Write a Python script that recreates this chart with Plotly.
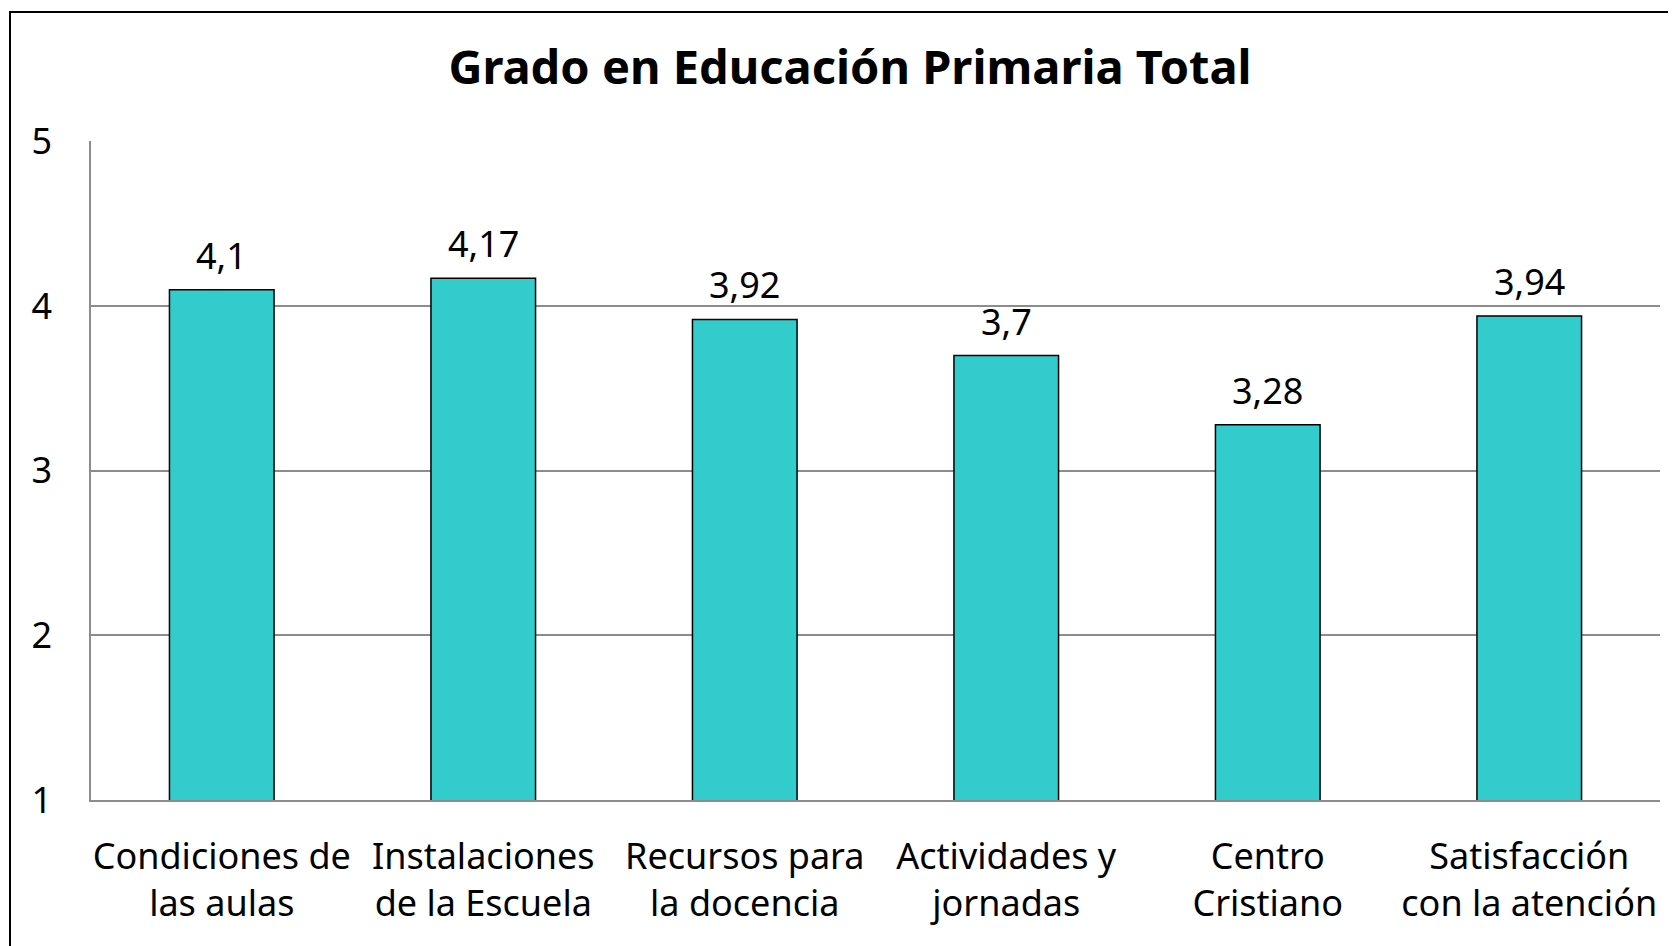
import plotly.graph_objects as go

categories = [
    "Condiciones de<br>las aulas",
    "Instalaciones<br>de la Escuela",
    "Recursos para<br>la docencia",
    "Actividades y<br>jornadas",
    "Centro<br>Cristiano",
    "Satisfacción<br>con la atención",
]
values = [4.1, 4.17, 3.92, 3.7, 3.28, 3.94]
value_labels = ["4,1", "4,17", "3,92", "3,7", "3,28", "3,94"]
y_ticks = [1, 2, 3, 4, 5]

FONT = "Comic Sans MS, Noto Sans, DejaVu Sans, sans-serif"

fig = go.Figure(
    go.Bar(
        x=categories,
        y=values,
        marker=dict(color="#33CCCC", line=dict(color="black", width=1.5)),
        width=0.4,
        hoverinfo="x+y",
    )
)

# value labels above bars
for c, v, t in zip(categories, values, value_labels):
    fig.add_annotation(x=c, y=v, text=t, showarrow=False, yanchor="bottom",
                       yshift=8, font=dict(size=36, color="black", family=FONT))

W, H = 1676, 946
ml, mr, mt, mb = 83, 24, 133, 154
pw = W - ml - mr
ph = H - mt - mb

# outer frame (extends past the right and bottom edges)
fx0 = (2 - ml) / pw
fy1 = (H - mb - 4) / ph
fig.add_shape(type="rect", xref="paper", yref="paper",
              x0=fx0, x1=1.2, y0=-0.6, y1=fy1,
              line=dict(color="black", width=2), layer="below")

fig.update_layout(
    width=W, height=H,
    margin=dict(l=ml, r=mr, t=mt, b=mb),
    paper_bgcolor="white",
    plot_bgcolor="white",
    separators=",.",
    showlegend=False,
    title=dict(text="<b>Grado en Educación Primaria Total</b>",
               x=842 / W, xanchor="center", y=1 - 60 / H, yanchor="middle",
               font=dict(size=47, color="black", family=FONT)),
    font=dict(family=FONT, color="black"),
)
fig.update_yaxes(range=[1, 5.004], tickvals=y_ticks, showgrid=True,
                 gridcolor="#8c8c8c", gridwidth=1.5,
                 showline=True, linecolor="#8c8c8c", linewidth=1.5,
                 zeroline=False, ticks="", ticklabelstandoff=30,
                 tickfont=dict(size=36, color="black", family=FONT))
fig.update_xaxes(showline=True, linecolor="#8c8c8c", linewidth=1.5,
                 tickangle=0, ticks="", ticklabelstandoff=24,
                 tickfont=dict(size=36, color="black", family=FONT))

fig.write_html("out.html")
